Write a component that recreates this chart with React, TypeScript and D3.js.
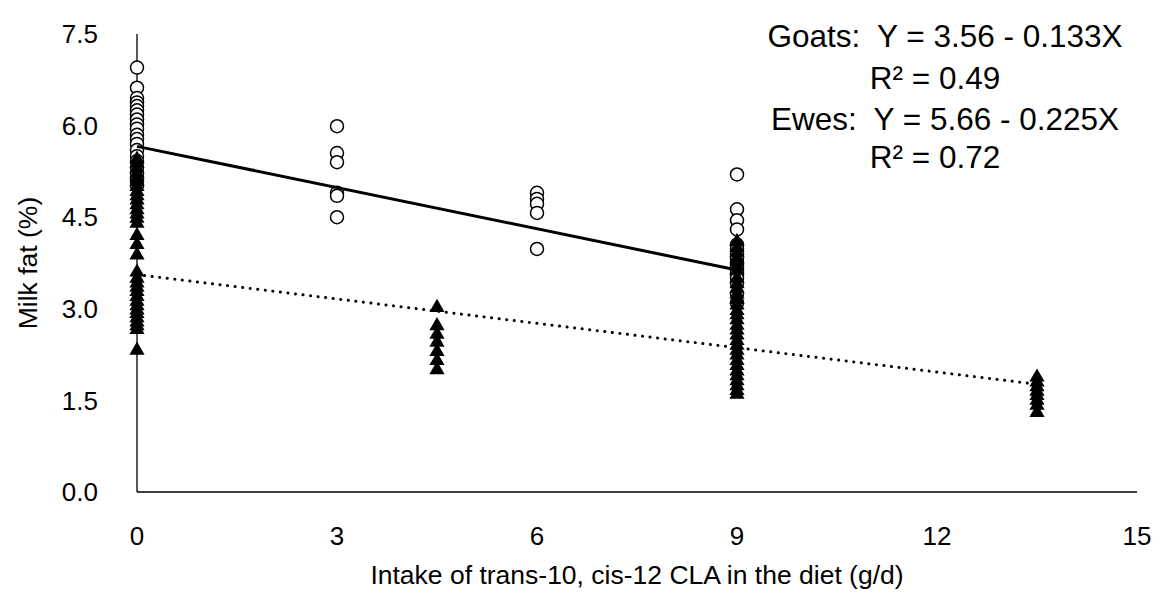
import * as d3 from 'd3';

// x = intake of trans-10, cis-12 CLA (g/d)
const goatX0 = [5.45, 5.38, 5.3, 5.22, 5.15, 5.08, 5.0, 4.92, 4.85, 4.78, 4.7, 4.62, 4.55, 4.48, 4.4, 4.2, 4.05, 3.88, 3.6, 3.5, 3.42, 3.35, 3.28, 3.2, 3.12, 3.05, 2.98, 2.92, 2.85, 2.78, 2.72, 2.66, 2.32];
const goatX45 = [3.02, 2.72, 2.58, 2.45, 2.3, 2.15, 2.0];
const goatX9 = [4.1, 4.0, 3.92, 3.83, 3.78, 3.7, 3.62, 3.5, 3.41, 3.33, 3.24, 3.15, 3.06, 2.97, 2.9, 2.82, 2.73, 2.65, 2.57, 2.48, 2.4, 2.32, 2.24, 2.15, 2.07, 1.98, 1.9, 1.82, 1.74, 1.66, 1.6];
const goatX135 = [1.88, 1.8, 1.72, 1.65, 1.58, 1.5, 1.42, 1.3];

const eweX0 = [6.95, 6.62, 6.45, 6.38, 6.32, 6.25, 6.18, 6.1, 6.02, 5.95, 5.85, 5.78, 5.7, 5.6, 5.5, 5.42, 5.32, 5.22, 5.12, 5.02];
const eweX3 = [5.99, 5.55, 5.4, 4.9, 4.85, 4.5];
const eweX6 = [4.9, 4.8, 4.72, 4.57, 3.98];
const eweX9 = [5.2, 4.63, 4.45, 4.3, 4.05, 3.98, 3.9, 3.83, 3.75, 3.66, 3.58, 3.5, 3.42, 3.25, 3.1];

const goats: [number, number][] = [
  ...goatX0.map(v => [0, v] as [number, number]),
  ...goatX45.map(v => [4.5, v] as [number, number]),
  ...goatX9.map(v => [9, v] as [number, number]),
  ...goatX135.map(v => [13.5, v] as [number, number]),
];
const ewes: [number, number][] = [
  ...eweX0.map(v => [0, v] as [number, number]),
  ...eweX3.map(v => [3, v] as [number, number]),
  ...eweX6.map(v => [6, v] as [number, number]),
  ...eweX9.map(v => [9, v] as [number, number]),
];

// regression lines: [intercept, slope, xmax]
const goatFit = [3.56, -0.133, 13.5];
const eweFit = [5.66, -0.225, 9];

const xTicks = [0, 3, 6, 9, 12, 15];
const yTicks = [0, 1.5, 3, 4.5, 6, 7.5];
const legendLines = ['Goats:  Y = 3.56 - 0.133X', 'R\u00b2 = 0.49', 'Ewes:  Y = 5.66 - 0.225X', 'R\u00b2 = 0.72'];

const font = '"Liberation Sans", Arial, sans-serif';

export default function App() {
  const width = 1162, height = 593;
  const x = d3.scaleLinear().domain([0, 15]).range([137, 1137]);
  const y = d3.scaleLinear().domain([0, 7.5]).range([492, 34]);
  const tri = d3.symbol(d3.symbolTriangle, 100)() as string;
  const fitLine = (f: number[]) => d3.line<number>().x(d => x(d)).y(d => y(f[0] + f[1] * d))([0, f[2]]) as string;

  return (
    <svg width={width} height={height} style={{ position: 'absolute', left: 0, top: 0, background: '#fff' }} fontFamily={font}>
      {/* axes */}
      <line x1={x(0)} x2={x(0)} y1={y(7.5)} y2={y(0)} stroke="#000" strokeWidth={1.3} />
      <line x1={x(0)} x2={x(15)} y1={y(0)} y2={y(0)} stroke="#000" strokeWidth={1.3} />
      {yTicks.map(t => (
        <text key={t} x={98} y={y(t)} dy="0.35em" textAnchor="end" fontSize={26}>{d3.format('.1f')(t)}</text>
      ))}
      {xTicks.map(t => (
        <text key={t} x={x(t)} y={536} dy="0.35em" textAnchor="middle" fontSize={26}>{t}</text>
      ))}
      <text x={x(7.5)} y={575} dy="0.35em" textAnchor="middle" fontSize={26.5}>Intake of trans-10, cis-12 CLA in the diet (g/d)</text>
      <text transform={`translate(28,${(y(0) + y(7.5)) / 2}) rotate(-90)`} dy="0.35em" textAnchor="middle" fontSize={26.5}>Milk fat (%)</text>

      {/* points */}
      {ewes.map((d, i) => (
        <circle key={'e' + i} cx={x(d[0])} cy={y(d[1])} r={6.5} fill="#fff" stroke="#000" strokeWidth={1.5} />
      ))}
      {goats.map((d, i) => (
        <path key={'g' + i} d={tri} transform={`translate(${x(d[0])},${y(d[1])})`} fill="#000" />
      ))}

      {/* fits */}
      <path d={fitLine(eweFit)} stroke="#000" strokeWidth={3} fill="none" />
      <path d={fitLine(goatFit)} stroke="#000" strokeWidth={3} fill="none" strokeDasharray="0.1 7.5" strokeLinecap="round" />

      {/* equations */}
      {legendLines.map((s, i) => (
        <text key={s} x={i % 2 === 0 ? 945 : 935} y={[36, 78, 119, 157][i]} dy="0.35em" textAnchor="middle" fontSize={31.5} style={{ whiteSpace: 'pre' }}>{s}</text>
      ))}
    </svg>
  );
}
